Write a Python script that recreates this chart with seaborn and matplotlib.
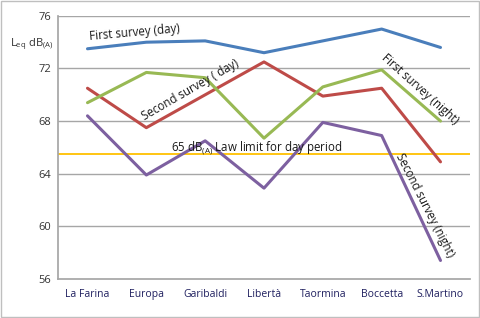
import matplotlib
matplotlib.use("Agg")
import matplotlib.pyplot as plt
import seaborn as sns
import pandas as pd

sites = ["La Farina", "Europa", "Garibaldi", "Libertà", "Taormina", "Boccetta", "S.Martino"]
first_day = [73.5, 74.0, 74.1, 73.2, 74.1, 75.0, 73.6]
second_day = [70.5, 67.5, 70.0, 72.5, 69.9, 70.5, 64.9]
first_night = [69.4, 71.7, 71.3, 66.7, 70.6, 71.9, 68.0]
second_night = [68.4, 63.9, 66.5, 62.9, 67.9, 66.9, 57.4]
series_names = ["First survey (day)", "Second survey (day)", "First survey (night)", "Second survey (night)"]
colors = ["#4A7EBB", "#BE4B48", "#98B954", "#7D60A0"]
law_limit = 65.5
yticks = [56, 60, 64, 68, 72, 76]

sns.set_theme(style="white")
plt.rcParams['font.family'] = ['Open Sans', 'DejaVu Sans']

rows = []
for name, vals in zip(series_names, [first_day, second_day, first_night, second_night]):
    for i, (s, v) in enumerate(zip(sites, vals)):
        rows.append({"idx": i, "site": s, "value": v, "series": name})
df = pd.DataFrame(rows)

fig = plt.figure(figsize=(4.8, 3.18), dpi=100)
ax = fig.add_axes([0.121, 0.123, 0.858, 0.827])
for y in yticks[1:]:
    ax.axhline(y, color="#A6A6A6", lw=1.0, zorder=0)
sns.lineplot(data=df, x="idx", y="value", hue="series", palette=colors,
             linewidth=2.2, ax=ax, legend=False, sort=False)
ax.axhline(law_limit, color="#FFC000", lw=1.3, zorder=1)

ax.set_xlim(-0.5, 6.5)
ax.set_ylim(56, 76)
ax.set_yticks(yticks)
ax.set_yticklabels([str(t) for t in yticks], fontsize=8, color="#333333")
ax.set_xticks(range(len(sites)))
ax.set_xticklabels(sites, fontsize=7.5, color="#1F1F5F")
ax.tick_params(axis="y", length=3, color="#A6A6A6", pad=2)
ax.tick_params(axis="x", length=0, pad=7)
ax.set_xlabel("")
ax.set_ylabel("")
for s in ["top", "right"]:
    ax.spines[s].set_visible(False)
ax.spines["left"].set_color("#A6A6A6")
ax.spines["bottom"].set_color("#A6A6A6")

tc = "#1A1A1A"
fs = 8.3
ax.text(0.80, 74.75, "First survey (day)", rotation=5, ha="center", va="center", fontsize=fs, color=tc)
ax.text(1.75, 70.4, "Second survey ( day)", rotation=30, ha="center", va="center", fontsize=fs, color=tc)
ax.text(5.66, 70.4, "First survey (night)", rotation=-42, ha="center", va="center", fontsize=fs, color=tc)
ax.text(5.74, 61.6, "Second survey (night)", rotation=-63, ha="center", va="center", fontsize=fs, color=tc)
ax.text(1.42, 65.95, r"65 dB$_{\mathregular{(A)}}$ Law limit for day period", ha="left", va="center", fontsize=fs, color=tc)

fig.text(0.02, 0.86, r"L$_{\mathregular{eq}}$ dB$_{\mathregular{(A)}}$", fontsize=8, color="#333333", ha="left", va="center")

border = plt.Rectangle((0.002, 0.003), 0.995, 0.994, transform=fig.transFigure, fill=False, edgecolor="#BFBFBF", lw=1)
fig.patches.append(border)

fig.savefig("out.png", dpi=100)
